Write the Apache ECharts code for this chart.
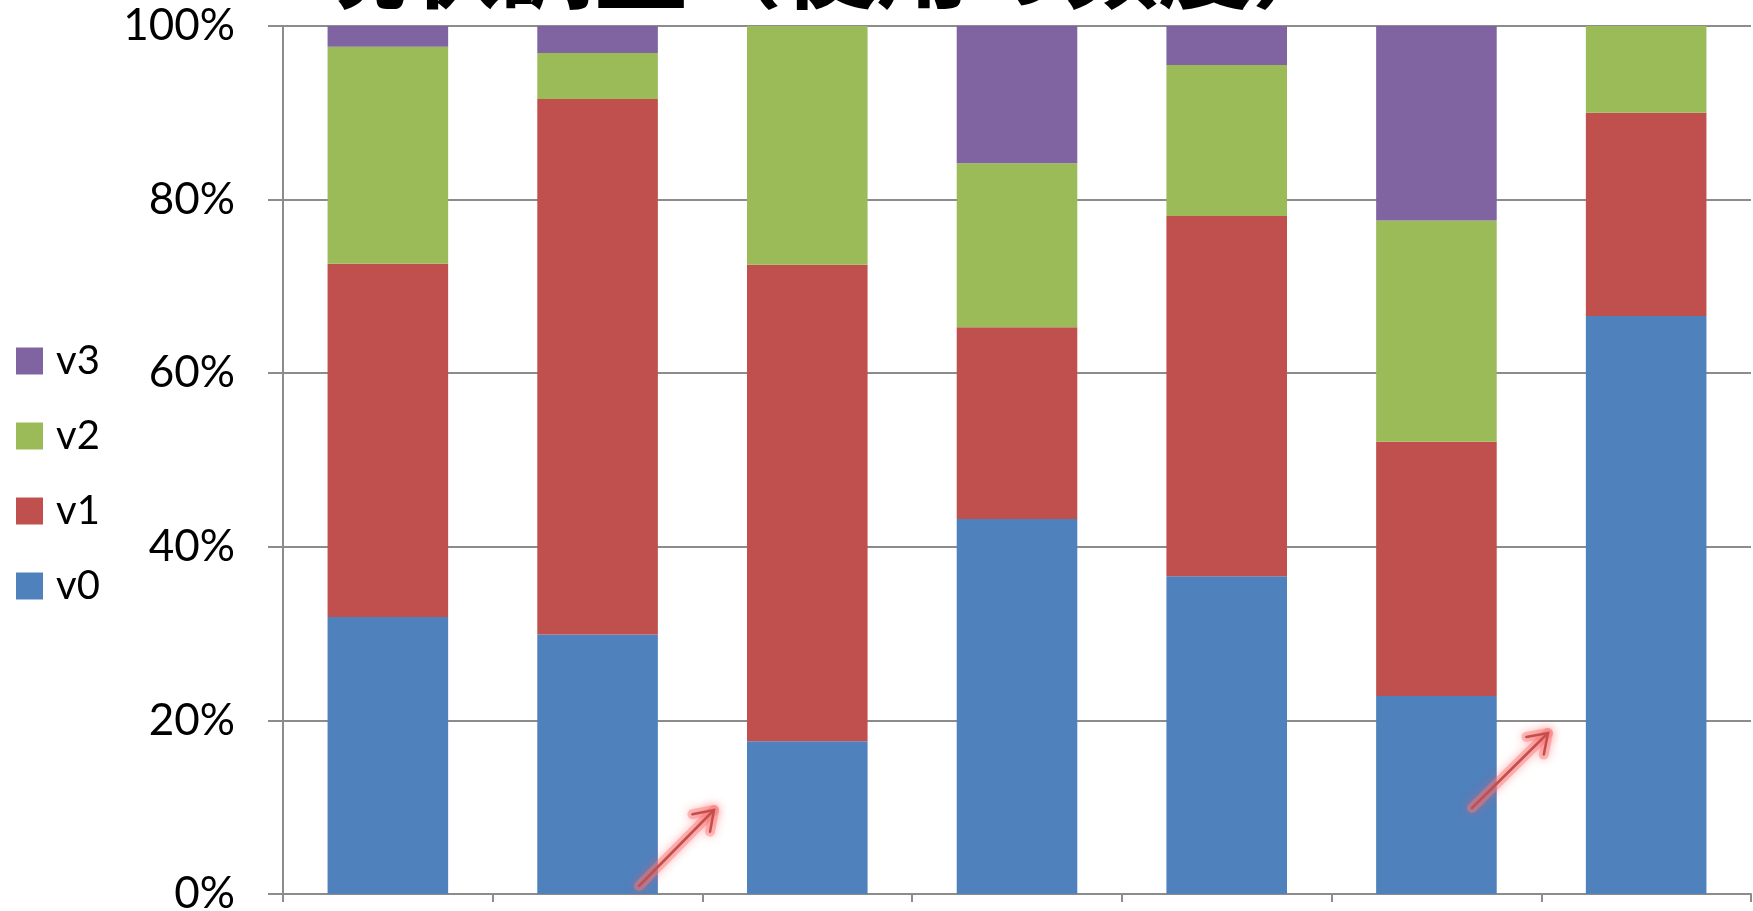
<!DOCTYPE html>
<html>
<head>
<meta charset="utf-8">
<script src="https://cdn.jsdelivr.net/npm/echarts@6/dist/echarts.min.js"></script>
<style>
html,body{margin:0;padding:0;background:#fff;}
#chart{width:1753px;height:911px;}
</style>
</head>
<body>
<div id="chart"></div>
<script>
// ---- data ----
var categories = ['1', '2', '3', '4', '5', '6', '7'];
var v0 = [31.9, 29.9, 17.6, 43.2, 36.6, 22.8, 66.6];
var v1 = [40.7, 61.7, 54.9, 22.1, 41.5, 29.3, 23.4];
var v2 = [25.0, 5.3, 27.5, 18.9, 17.4, 25.5, 10.0];
var v3 = [2.4, 3.1, 0, 15.8, 4.5, 22.4, 0];
var seriesNames = ['v0', 'v1', 'v2', 'v3'];
var legendOrder = ['v3', 'v2', 'v1', 'v0'];
var titleText = '現状調査（使用の頻度）';

var colors = ['#4F81BD', '#C0504D', '#9BBB59', '#8064A2'];
var values = [v0, v1, v2, v3];
var gridColor = '#8c8c8c';

var chart = echarts.init(document.getElementById('chart'), null, {renderer: 'canvas'});

function arrow(x1, y1, x2, y2) {
  var ang = Math.atan2(y1 - y2, x1 - x2);
  var L = 22, spread = 0.6;
  var w1 = [x2 + L * Math.cos(ang + spread), y2 + L * Math.sin(ang + spread)];
  var w2 = [x2 + L * Math.cos(ang - spread), y2 + L * Math.sin(ang - spread)];
  var glow = {stroke: 'rgba(250,120,120,0.45)', lineWidth: 10, fill: null, shadowBlur: 10, shadowColor: 'rgba(255,90,90,0.9)', lineCap: 'round', lineJoin: 'round'};
  var style = {stroke: '#c0504d', lineWidth: 2.5, fill: null, lineCap: 'round'};
  return [
    {type: 'line', shape: {x1: x1, y1: y1, x2: x2, y2: y2}, style: glow, z: 99},
    {type: 'polyline', shape: {points: [w1, [x2, y2], w2]}, style: glow, z: 99},
    {type: 'line', shape: {x1: x1, y1: y1, x2: x2, y2: y2}, style: style, z: 100},
    {type: 'polyline', shape: {points: [w1, [x2, y2], w2]}, style: style, z: 100}
  ];
}

var series = seriesNames.map(function (n, i) {
  return {
    name: n,
    type: 'bar',
    stack: 'total',
    barWidth: '57.5%',
    data: values[i],
    itemStyle: {color: colors[i]},
    emphasis: {disabled: true}
  };
});

var graphics = [{
  type: 'text',
  left: 312,
  top: -82,
  style: {
    text: titleText,
    font: 'bold 94px "Noto Sans CJK JP"',
    fill: '#000'
  },
  z: 50
}].concat(arrow(639, 886, 714, 810)).concat(arrow(1472, 808, 1548, 733));

chart.setOption({
  animation: false,
  color: colors,
  grid: {left: 283, right: 2, top: 26, bottom: 17, containLabel: false, outerBoundsMode: 'none'},
  legend: {
    data: legendOrder,
    orient: 'vertical',
    left: 16,
    top: 341,
    padding: 0,
    itemWidth: 27,
    itemHeight: 27,
    itemGap: 35,
    icon: 'rect',
    selectedMode: false,
    textStyle: {fontFamily: 'Lato', fontSize: 40, color: '#000', padding: [0, 0, 0, 8]}
  },
  xAxis: {
    type: 'category',
    data: categories,
    boundaryGap: true,
    axisLine: {show: true, lineStyle: {color: gridColor, width: 2}},
    axisTick: {show: true, length: 8, interval: 0, lineStyle: {color: gridColor, width: 2}},
    axisLabel: {show: false},
    splitLine: {show: false}
  },
  yAxis: {
    type: 'value',
    min: 0,
    max: 100,
    interval: 20,
    axisLine: {show: true, lineStyle: {color: gridColor, width: 2}},
    axisTick: {show: true, length: 15, lineStyle: {color: gridColor, width: 2}},
    axisLabel: {formatter: '{value}%', fontFamily: 'Lato', fontSize: 44, color: '#000', margin: 48},
    splitLine: {show: true, lineStyle: {color: gridColor, width: 2}}
  },
  graphic: graphics,
  series: series
});
</script>
</body>
</html>
